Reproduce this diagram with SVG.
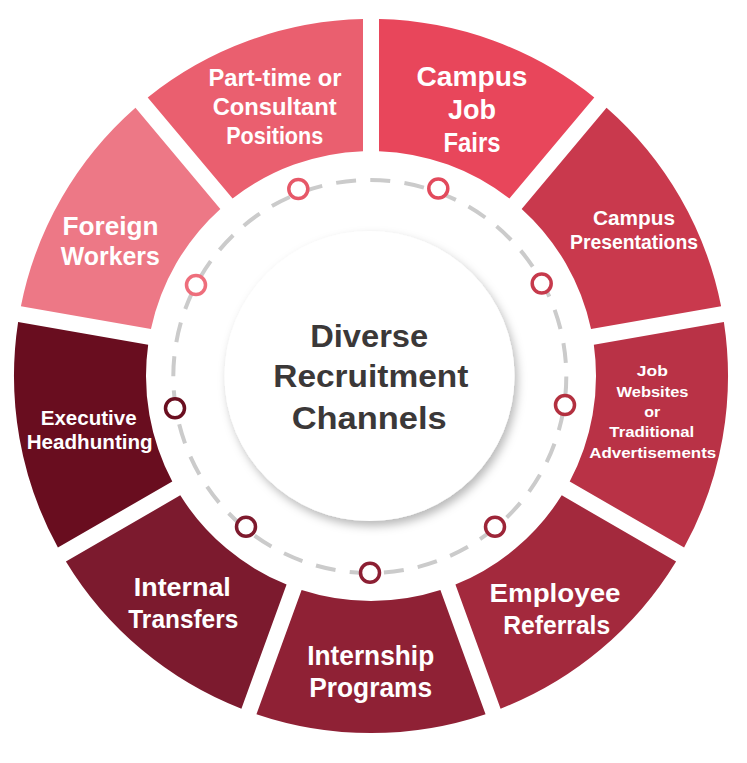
<svg xmlns="http://www.w3.org/2000/svg" width="747" height="763" viewBox="0 0 747 763">
  <defs>
    <filter id="shadow" x="-20%" y="-20%" width="140%" height="140%">
      <feDropShadow dx="3" dy="5" stdDeviation="5" flood-color="#000" flood-opacity="0.28"/>
    </filter>
    <style>
      .seg-label { font-family: "Liberation Sans", Arial, sans-serif; font-weight: bold; fill: #ffffff; text-anchor: middle; }
      .center-label { font-family: "Liberation Sans", Arial, sans-serif; font-weight: bold; fill: #3b3838; text-anchor: middle; font-size: 31px; }
      .dot { fill: #ffffff; stroke-width: 3.5; }
      .track { fill: none; stroke: #cbcbcb; stroke-width: 4; stroke-dasharray: 20 14.3; }
    </style>
  </defs>
  <rect width="747" height="763" fill="#ffffff"/>

  <g id="campus-job-fairs">
    <path d="M379,19.09 A357,357 0 0 1 594.29,97.45 L509.41,198.61 A225,225 0 0 0 379,151.14 Z" fill="#E8465B"/>
    <text class="seg-label" font-size="27" x="472" y="86" textLength="111" lengthAdjust="spacingAndGlyphs">Campus</text>
    <text class="seg-label" font-size="27" x="472" y="118.5" textLength="48" lengthAdjust="spacingAndGlyphs">Job</text>
    <text class="seg-label" font-size="27" x="472" y="151.5" textLength="57" lengthAdjust="spacingAndGlyphs">Fairs</text>
  </g>
  <g id="campus-presentations">
    <path d="M606.55,107.73 A357,357 0 0 1 721.10,306.14 L591.05,329.07 A225,225 0 0 0 521.67,208.89 Z" fill="#C9394D"/>
    <text class="seg-label" font-size="21" x="634" y="224.5" textLength="82" lengthAdjust="spacingAndGlyphs">Campus</text>
    <text class="seg-label" font-size="21" x="634" y="248.5" textLength="128" lengthAdjust="spacingAndGlyphs">Presentations</text>
  </g>
  <g id="job-websites">
    <path d="M723.88,321.90 A357,357 0 0 1 684.10,547.53 L569.73,481.50 A225,225 0 0 0 593.83,344.83 Z" fill="#B93246"/>
    <text class="seg-label" font-size="15.5" x="652.3" y="376" textLength="31" lengthAdjust="spacingAndGlyphs">Job</text>
    <text class="seg-label" font-size="15.5" x="652.5" y="396.7" textLength="72" lengthAdjust="spacingAndGlyphs">Websites</text>
    <text class="seg-label" font-size="15.5" x="652.2" y="416.7" textLength="16" lengthAdjust="spacingAndGlyphs">or</text>
    <text class="seg-label" font-size="15.5" x="651.8" y="437.3" textLength="85" lengthAdjust="spacingAndGlyphs">Traditional</text>
    <text class="seg-label" font-size="15.5" x="652.7" y="458.3" textLength="127" lengthAdjust="spacingAndGlyphs">Advertisements</text>
  </g>
  <g id="employee-referrals">
    <path d="M676.10,561.39 A357,357 0 0 1 500.59,708.65 L455.43,584.56 A225,225 0 0 0 561.73,495.36 Z" fill="#A3293D"/>
    <text class="seg-label" font-size="25" x="555" y="601.7" textLength="131" lengthAdjust="spacingAndGlyphs">Employee</text>
    <text class="seg-label" font-size="25" x="556.7" y="634" textLength="107" lengthAdjust="spacingAndGlyphs">Referrals</text>
  </g>
  <g id="internship-programs">
    <path d="M485.55,714.13 A357,357 0 0 1 256.45,714.13 L301.61,590.04 A225,225 0 0 0 440.39,590.04 Z" fill="#8F2135"/>
    <text class="seg-label" font-size="27" x="370.7" y="665" textLength="127" lengthAdjust="spacingAndGlyphs">Internship</text>
    <text class="seg-label" font-size="27" x="370.7" y="696.5" textLength="123" lengthAdjust="spacingAndGlyphs">Programs</text>
  </g>
  <g id="internal-transfers">
    <path d="M241.41,708.65 A357,357 0 0 1 65.90,561.39 L180.27,495.36 A225,225 0 0 0 286.57,584.56 Z" fill="#7C1A2E"/>
    <text class="seg-label" font-size="26" x="182.3" y="596" textLength="97" lengthAdjust="spacingAndGlyphs">Internal</text>
    <text class="seg-label" font-size="26" x="183.3" y="628.3" textLength="110" lengthAdjust="spacingAndGlyphs">Transfers</text>
  </g>
  <g id="executive-headhunting">
    <path d="M57.90,547.53 A357,357 0 0 1 18.12,321.90 L148.17,344.83 A225,225 0 0 0 172.27,481.50 Z" fill="#690D1F"/>
    <text class="seg-label" font-size="20.5" x="88.7" y="425" textLength="96" lengthAdjust="spacingAndGlyphs">Executive</text>
    <text class="seg-label" font-size="20.5" x="89.7" y="449" textLength="126" lengthAdjust="spacingAndGlyphs">Headhunting</text>
  </g>
  <g id="foreign-workers">
    <path d="M20.90,306.14 A357,357 0 0 1 135.45,107.73 L220.33,208.89 A225,225 0 0 0 150.95,329.07 Z" fill="#ED7886"/>
    <text class="seg-label" font-size="25.5" x="110.5" y="235" textLength="96" lengthAdjust="spacingAndGlyphs">Foreign</text>
    <text class="seg-label" font-size="25.5" x="110.3" y="265" textLength="99" lengthAdjust="spacingAndGlyphs">Workers</text>
  </g>
  <g id="part-time-consultant">
    <path d="M147.71,97.45 A357,357 0 0 1 363,19.09 L363,151.14 A225,225 0 0 0 232.59,198.61 Z" fill="#EA5F6F"/>
    <text class="seg-label" font-size="23" x="275" y="86" textLength="133" lengthAdjust="spacingAndGlyphs">Part-time or</text>
    <text class="seg-label" font-size="23" x="274.7" y="115" textLength="124" lengthAdjust="spacingAndGlyphs">Consultant</text>
    <text class="seg-label" font-size="23" x="274.7" y="143.5" textLength="97" lengthAdjust="spacingAndGlyphs">Positions</text>
  </g>

  <g id="connectors">
    <circle class="track" cx="369.8" cy="376.5" r="196.5"/>
    <circle class="dot" cx="298.3" cy="189" r="9.5" stroke="#E65868"/>
    <circle class="dot" cx="438.3" cy="188.5" r="9.5" stroke="#E24A5C"/>
    <circle class="dot" cx="541.7" cy="283.5" r="9.5" stroke="#C63A4C"/>
    <circle class="dot" cx="565" cy="405" r="9.5" stroke="#B3303F"/>
    <circle class="dot" cx="495" cy="526.7" r="9.5" stroke="#9D2538"/>
    <circle class="dot" cx="370" cy="572.7" r="9.5" stroke="#8C1F33"/>
    <circle class="dot" cx="246" cy="526.7" r="9.5" stroke="#7E1A2D"/>
    <circle class="dot" cx="175" cy="408.3" r="9.5" stroke="#6A0F20"/>
    <circle class="dot" cx="196" cy="285" r="9.5" stroke="#EE6E7C"/>
  </g>

  <g id="center">
    <circle cx="369.5" cy="376" r="145" fill="#ffffff" filter="url(#shadow)"/>
    <text class="center-label" x="369.2" y="346.7" textLength="118" lengthAdjust="spacingAndGlyphs">Diverse</text>
    <text class="center-label" x="370.8" y="387.3" textLength="195" lengthAdjust="spacingAndGlyphs">Recruitment</text>
    <text class="center-label" x="369.2" y="429.3" textLength="155" lengthAdjust="spacingAndGlyphs">Channels</text>
  </g>
</svg>
